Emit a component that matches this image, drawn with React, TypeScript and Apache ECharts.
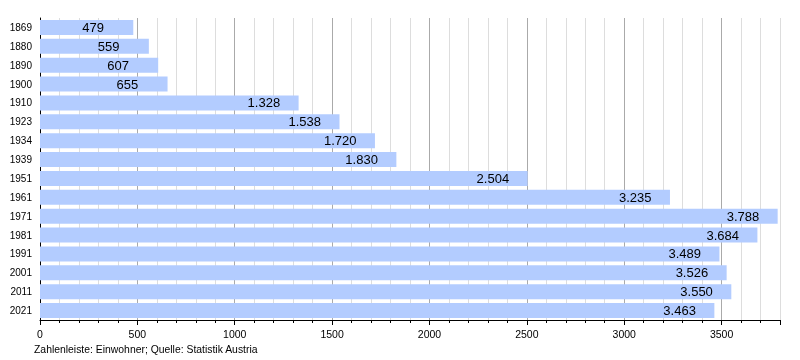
import React, { useEffect, useRef } from "react";
import * as echarts from "echarts";

const years = ["1869", "1880", "1890", "1900", "1910", "1923", "1934", "1939", "1951", "1961", "1971", "1981", "1991", "2001", "2011", "2021"];
const population = [479, 559, 607, 655, 1328, 1538, 1720, 1830, 2504, 3235, 3788, 3684, 3489, 3526, 3550, 3463];
const footerText = "Zahlenleiste: Einwohner; Quelle: Statistik Austria";

const fmt = (v: number) =>
  v >= 1000 ? Math.floor(v / 1000) + "." + String(v % 1000).padStart(3, "0") : String(v);

const FONT = "'Liberation Sans', Arial, sans-serif";

export default function App() {
  const ref = useRef<HTMLDivElement>(null);
  useEffect(() => {
    if (!ref.current) return;
    const chart = echarts.init(ref.current, undefined, { renderer: "svg" });
    const majorColors = [0, 500, 1000, 1500, 2000, 2500, 3000, 3500].map(() => "#aaaaaa").concat(["#dddddd"]);
    chart.setOption({
      animation: false,
      grid: { left: 40, right: 20, top: 18, bottom: 40, containLabel: false },
      xAxis: [
        {
          type: "value",
          min: 0,
          max: 3800,
          interval: 100,
          position: "bottom",
          axisLine: { show: true, lineStyle: { color: "#000", width: 1 } },
          axisTick: { show: true, length: 3, lineStyle: { color: "#000" } },
          axisLabel: {
            show: true,
            margin: 8,
            color: "#000",
            fontSize: 10.5,
            fontFamily: FONT,
            formatter: (v: number) => (v % 500 === 0 && v <= 3500 ? String(v) : ""),
          },
          splitLine: { show: true, lineStyle: { color: "#dddddd", width: 1 } },
        },
        {
          type: "value",
          min: 0,
          max: 3800,
          interval: 500,
          position: "bottom",
          axisLine: { show: false },
          axisTick: { show: true, length: 5, lineStyle: { color: "#000" } },
          axisLabel: { show: false },
          splitLine: { show: true, lineStyle: { color: majorColors, width: 1 } },
        },
      ],
      yAxis: {
        type: "category",
        data: years,
        inverse: true,
        axisLine: { show: true, lineStyle: { color: "#000", width: 1 } },
        axisTick: { show: false },
        axisLabel: { color: "#000", fontSize: 10, fontFamily: FONT, margin: 8 },
        splitLine: { show: false },
      },
      series: [
        {
          type: "bar",
          xAxisIndex: 0,
          data: population,
          barCategoryGap: "20%",
          itemStyle: { color: "#b3ccff" },
          label: {
            show: true,
            position: "insideRight",
            distance: 51,
            align: "left",
            color: "#000",
            fontSize: 13,
            fontFamily: FONT,
            formatter: (p: any) => fmt(p.value),
          },
        },
      ],
      graphic: [
        {
          type: "text",
          left: 34,
          top: 344,
          style: { text: footerText, fill: "#000", font: `10.4px ${FONT}` },
        },
      ],
    });
    return () => chart.dispose();
  }, []);
  return <div ref={ref} style={{ position: "fixed", left: 0, top: 0, width: 800, height: 360 }} />;
}
